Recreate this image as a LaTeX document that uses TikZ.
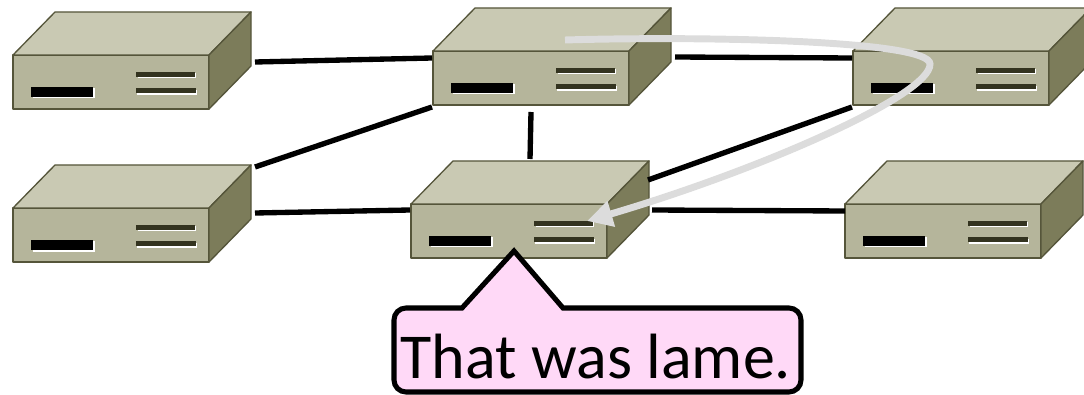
\documentclass[tikz,border=0pt]{standalone}
\usepackage{fontspec}
\setmainfont{Carlito}
\usetikzlibrary{calc,arrows.meta}
\definecolor{boxtop}{HTML}{C9C9B3}
\definecolor{boxfront}{HTML}{B5B59B}
\definecolor{boxside}{HTML}{7C7C5A}
\definecolor{boxedge}{HTML}{55553A}
\definecolor{slotdark}{HTML}{33331F}
\definecolor{calloutfill}{HTML}{FFD9F7}
\definecolor{trace}{HTML}{DCDCDC}
\tikzset{
  x=0.75pt,y=-0.75pt,
  link/.style={line width=4pt,black},
  boxface/.style={draw=boxedge,line width=1pt,line join=round},
  frontface/.style={boxface,fill=boxfront,rectangle,inner sep=0pt,outer sep=0pt,anchor=north west,minimum width=147pt,minimum height=40.5pt},
  slotshadow/.style={fill=white},
  pics/netbox/.style={code={
    \path[boxface,fill=boxtop] (0,0) -- (42,-43) -- (238,-43) -- (196,0) -- cycle;
    \path[boxface,fill=boxside] (196,0) -- (238,-43) -- (238,11) -- (196,54) -- cycle;
    \fill[slotshadow] (19.5,33.5) rectangle (81.5,43.5);
    \fill[black] (18,32) rectangle (80,42);
    \fill[slotshadow] (124.5,18.5) rectangle (183,23.5);
    \fill[slotdark] (123,17) rectangle (181.5,22);
    \fill[slotshadow] (124,35.5) rectangle (183.5,40);
    \fill[slotdark] (122.5,33.5) rectangle (182.5,38.5);
  }}
}
\begin{document}
\begin{tikzpicture}
\useasboundingbox (0,0) rectangle (1084,395);
% the front faces are the named nodes; the rest of each box sits on them
\node[frontface] (a) at (13,55) {};
\node[frontface] (b) at (433,51) {};
\node[frontface] (c) at (853,51) {};
\node[frontface] (d) at (13,208) {};
\node[frontface] (e) at (411,204) {};
\node[frontface] (f) at (845,204) {};
\foreach \n in {a,b,c,d,e,f}{
  \path (\n.north west) pic {netbox};
}
% connectors
\draw[link] ($(a.north east)+(46,7)$) -- ($(b.north west)+(-1,7)$);
\draw[link] ($(d.north east)+(46,-41)$) -- ($(b.north west)+(-1,56)$);
\draw[link] ($(d.north east)+(46,5)$) -- ($(e.north west)+(-1,6)$);
\draw[link] ($(b.north east)+(46,6)$) -- ($(c.north west)+(-1,7)$);
\draw[link] ($(b.north west)+(98,61)$) -- ($(e.north west)+(119,-45)$);
\draw[link] ($(e.north east)+(41,-24)$) -- ($(c.north west)+(-1,56)$);
\draw[link] ($(e.north east)+(45,6)$) -- ($(f.north west)+(0,7)$);
% grey trace
\draw[trace,line width=5.2pt,-{Triangle[length=19pt,width=19pt]}]
  ($(b.north west)+(132,-11)$) .. controls (700,36) and (930,40) .. (930,64)
  .. controls (931,95) and (760,170) .. ($(e.north east)+(-20,17)$);
% callout
\path[fill=calloutfill,draw=black,line width=3.8pt,line join=miter]
  (514,251) [sharp corners] -- (563,308) -- (700,308) [rounded corners=9pt] -- (801,308) -- (801,392) -- (394,392) -- (394,308) -- (430,308) [sharp corners] -- (462,308) -- cycle;
\node[inner sep=0pt,font=\fontsize{48pt}{50pt}\selectfont,text=black] (msg) at (596,357) {That was lame.};
\end{tikzpicture}
\end{document}
